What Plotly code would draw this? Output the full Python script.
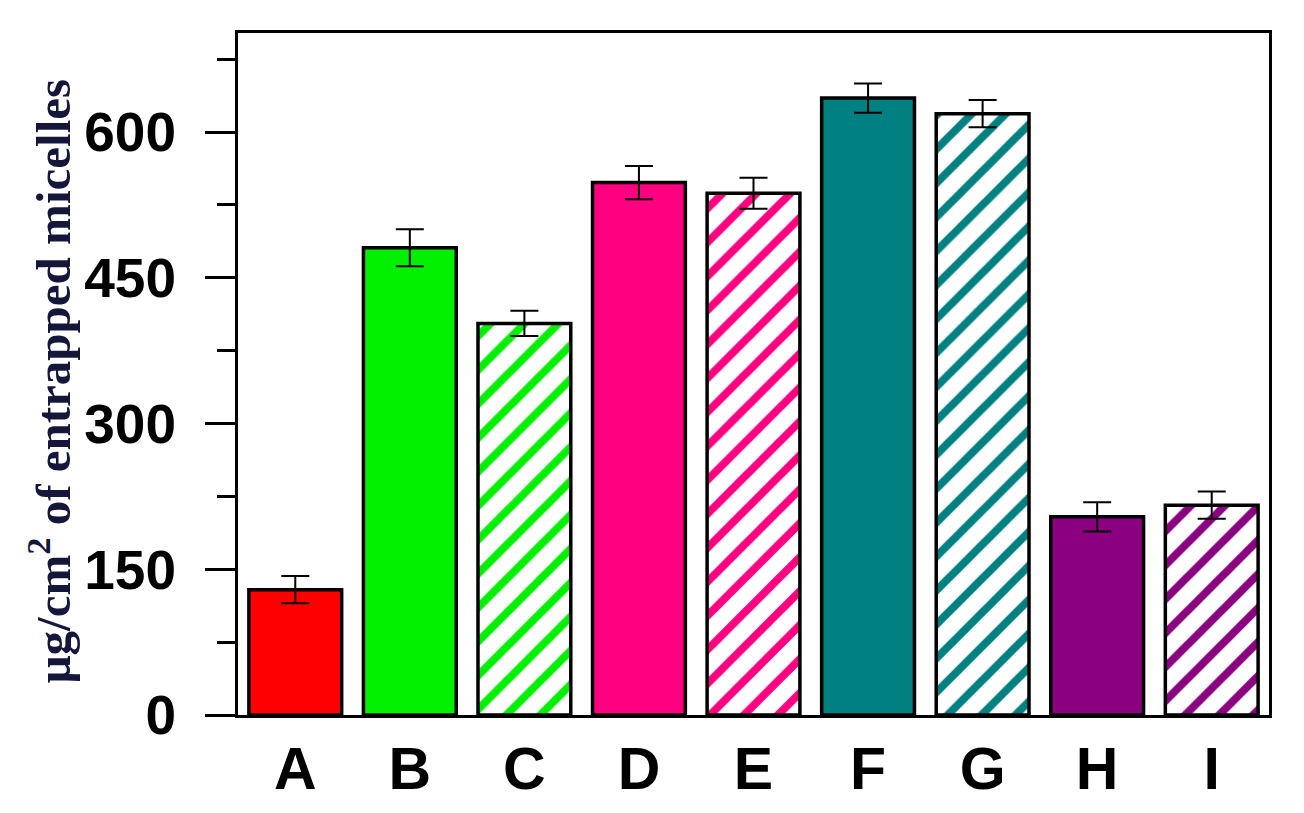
import plotly.graph_objects as go

categories = ["A", "B", "C", "D", "E", "F", "G", "H", "I"]
values = [129, 481, 403, 548, 537, 635, 619, 204, 216]
errors = [14, 19, 13, 17, 16, 15, 14, 15, 14]
colors = ["#FF0000", "#00F000", "#00F000", "#FF0080", "#FF0080",
          "#008080", "#008080", "#8B0080", "#8B0080"]
hatched = [False, False, True, False, True, False, True, False, True]
y_ticks = [0, 150, 300, 450, 600]

fig = go.Figure()
fig.add_trace(go.Bar(
    x=categories,
    y=values,
    width=0.81,
    marker=dict(
        color=colors,
        line=dict(color="black", width=3.5),
        pattern=dict(
            shape=["/" if h else "" for h in hatched],
            bgcolor="white",
            size=24,
            solidity=0.33,
            fillmode="replace",
        ),
    ),
    error_y=dict(type="data", array=errors, visible=True,
                 color="black", thickness=2, width=14),
    showlegend=False,
))

fig.update_layout(
    width=1304, height=813,
    margin=dict(l=230, r=43, t=25, b=106),
    paper_bgcolor="white",
    plot_bgcolor="white",
)
fig.update_xaxes(
    automargin=False,
    showline=True, linecolor="black", linewidth=3, mirror=True,
    ticks="", showgrid=False,
    tickfont=dict(family="Liberation Sans", size=59, color="black", weight="bold"),
    ticklabelstandoff=0,
)
fig.update_yaxes(
    automargin=False,
    range=[0, 702],
    tickvals=y_ticks,
    showline=True, linecolor="black", linewidth=3, mirror=True,
    ticks="outside", ticklen=30, tickwidth=3, tickcolor="black",
    minor=dict(dtick=75, tick0=0, ticks="outside", ticklen=18, tickwidth=3, tickcolor="black"),
    showgrid=False, zeroline=False,
    tickfont=dict(family="Liberation Sans", size=55, color="black", weight="bold"),
    ticklabelstandoff=18,
)
fig.add_annotation(
    text="μg/cm<sup>2</sup> of entrapped micelles",
    xref="paper", yref="paper",
    x=-0.182, y=0.49,
    xanchor="center", yanchor="middle",
    textangle=-90, showarrow=False,
    font=dict(family="Liberation Serif", size=49, color="#14163a", weight="bold"),
)

fig.write_html("out.html")
